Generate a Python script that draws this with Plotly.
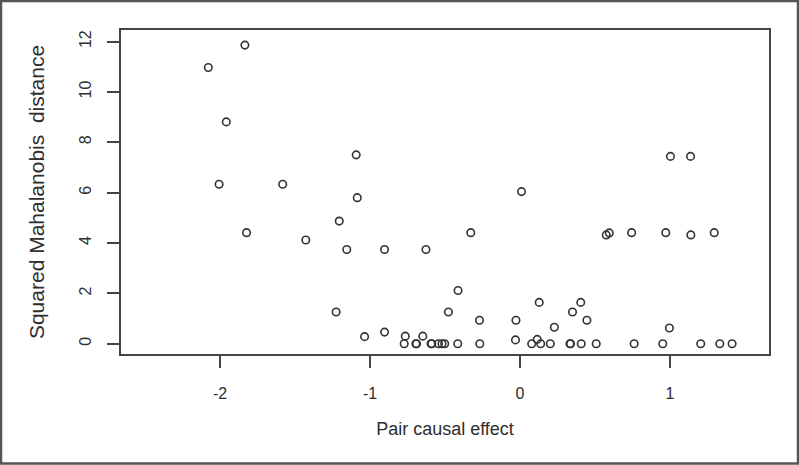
import plotly.graph_objects as go

# Points above zero
x_upper = [-2.078, -1.834, -1.958, -2.006, -1.823, -1.582, -1.428, -1.092, -1.085, -1.205,
           -1.155, -0.903, -0.627, -0.328, 0.010, -1.226, -1.036, -0.903, -0.765, -0.648,
           -0.413, -0.477, -0.270, -0.027, -0.030, 0.115, 0.128, 0.229, 0.350, 0.405,
           0.446, 0.575, 0.595, 0.744, 0.972, 1.139, 1.295, 1.003, 1.137, 0.996]
y_upper = [10.97, 11.86, 8.81, 6.33, 4.41, 6.33, 4.12, 7.50, 5.80, 4.87,
           3.74, 3.74, 3.74, 4.41, 6.04, 1.26, 0.28, 0.46, 0.30, 0.30,
           2.11, 1.26, 0.93, 0.93, 0.15, 0.17, 1.64, 0.65, 1.26, 1.64,
           0.93, 4.32, 4.40, 4.41, 4.41, 4.32, 4.41, 7.44, 7.44, 0.62]

# Points at zero distance
x_zero = [-0.772, -0.694, -0.690, -0.593, -0.588, -0.544, -0.520, -0.502, -0.415, -0.268,
          0.078, 0.138, 0.202, 0.333, 0.337, 0.408, 0.508, 0.761, 0.952, 1.205, 1.332, 1.414]
y_zero = [0.0] * len(x_zero)

x_vals = x_upper + x_zero
y_vals = y_upper + y_zero

x_ticks = [-2, -1, 0, 1]
y_ticks = [0, 2, 4, 6, 8, 10, 12]

x_title = "Pair causal effect"
y_title = "Squared Mahalanobis\u00a0 distance"

FONT = "Liberation Sans, Arial, sans-serif"
INK = "#2e2e2e"

fig = go.Figure()
fig.add_trace(go.Scatter(
    x=x_vals, y=y_vals, mode="markers",
    marker=dict(symbol="circle-open", size=7.5, color="#333333", line=dict(width=1.6, color="#333333")),
    showlegend=False, hoverinfo="x+y",
))

axis_common = dict(
    showgrid=False, zeroline=False, showline=True, mirror=True,
    linecolor="#444444", linewidth=1.7,
    ticks="outside", ticklen=12, tickwidth=1.6, tickcolor="#444444",
    tickfont=dict(family=FONT, size=16, color=INK),
)

fig.update_layout(
    width=800, height=465,
    margin=dict(l=121, r=31, t=30, b=111),
    paper_bgcolor="white", plot_bgcolor="white",
    xaxis=dict(range=[-2.66, 1.66], tickvals=x_ticks, ticktext=["-2", "-1", "0", "1"],
               title=dict(text=x_title, font=dict(family=FONT, size=18, color=INK), standoff=21),
               ticklabelstandoff=12, **axis_common),
    yaxis=dict(range=[-0.41, 12.46], tickvals=y_ticks, tickangle=-90,
               title=dict(text=y_title, font=dict(family=FONT, size=21, color=INK), standoff=26),
               ticklabelstandoff=10, **axis_common),
    shapes=[dict(type="rect", xref="paper", yref="paper",
                 x0=-0.1852, x1=1.0448, y0=-0.338, y1=1.0895,
                 line=dict(color="#555555", width=2.5), fillcolor="rgba(0,0,0,0)", layer="below")],
)

fig.write_html("out.html", config={"displayModeBar": False},
               post_script="document.body.style.margin='0';document.body.style.overflow='hidden';")
